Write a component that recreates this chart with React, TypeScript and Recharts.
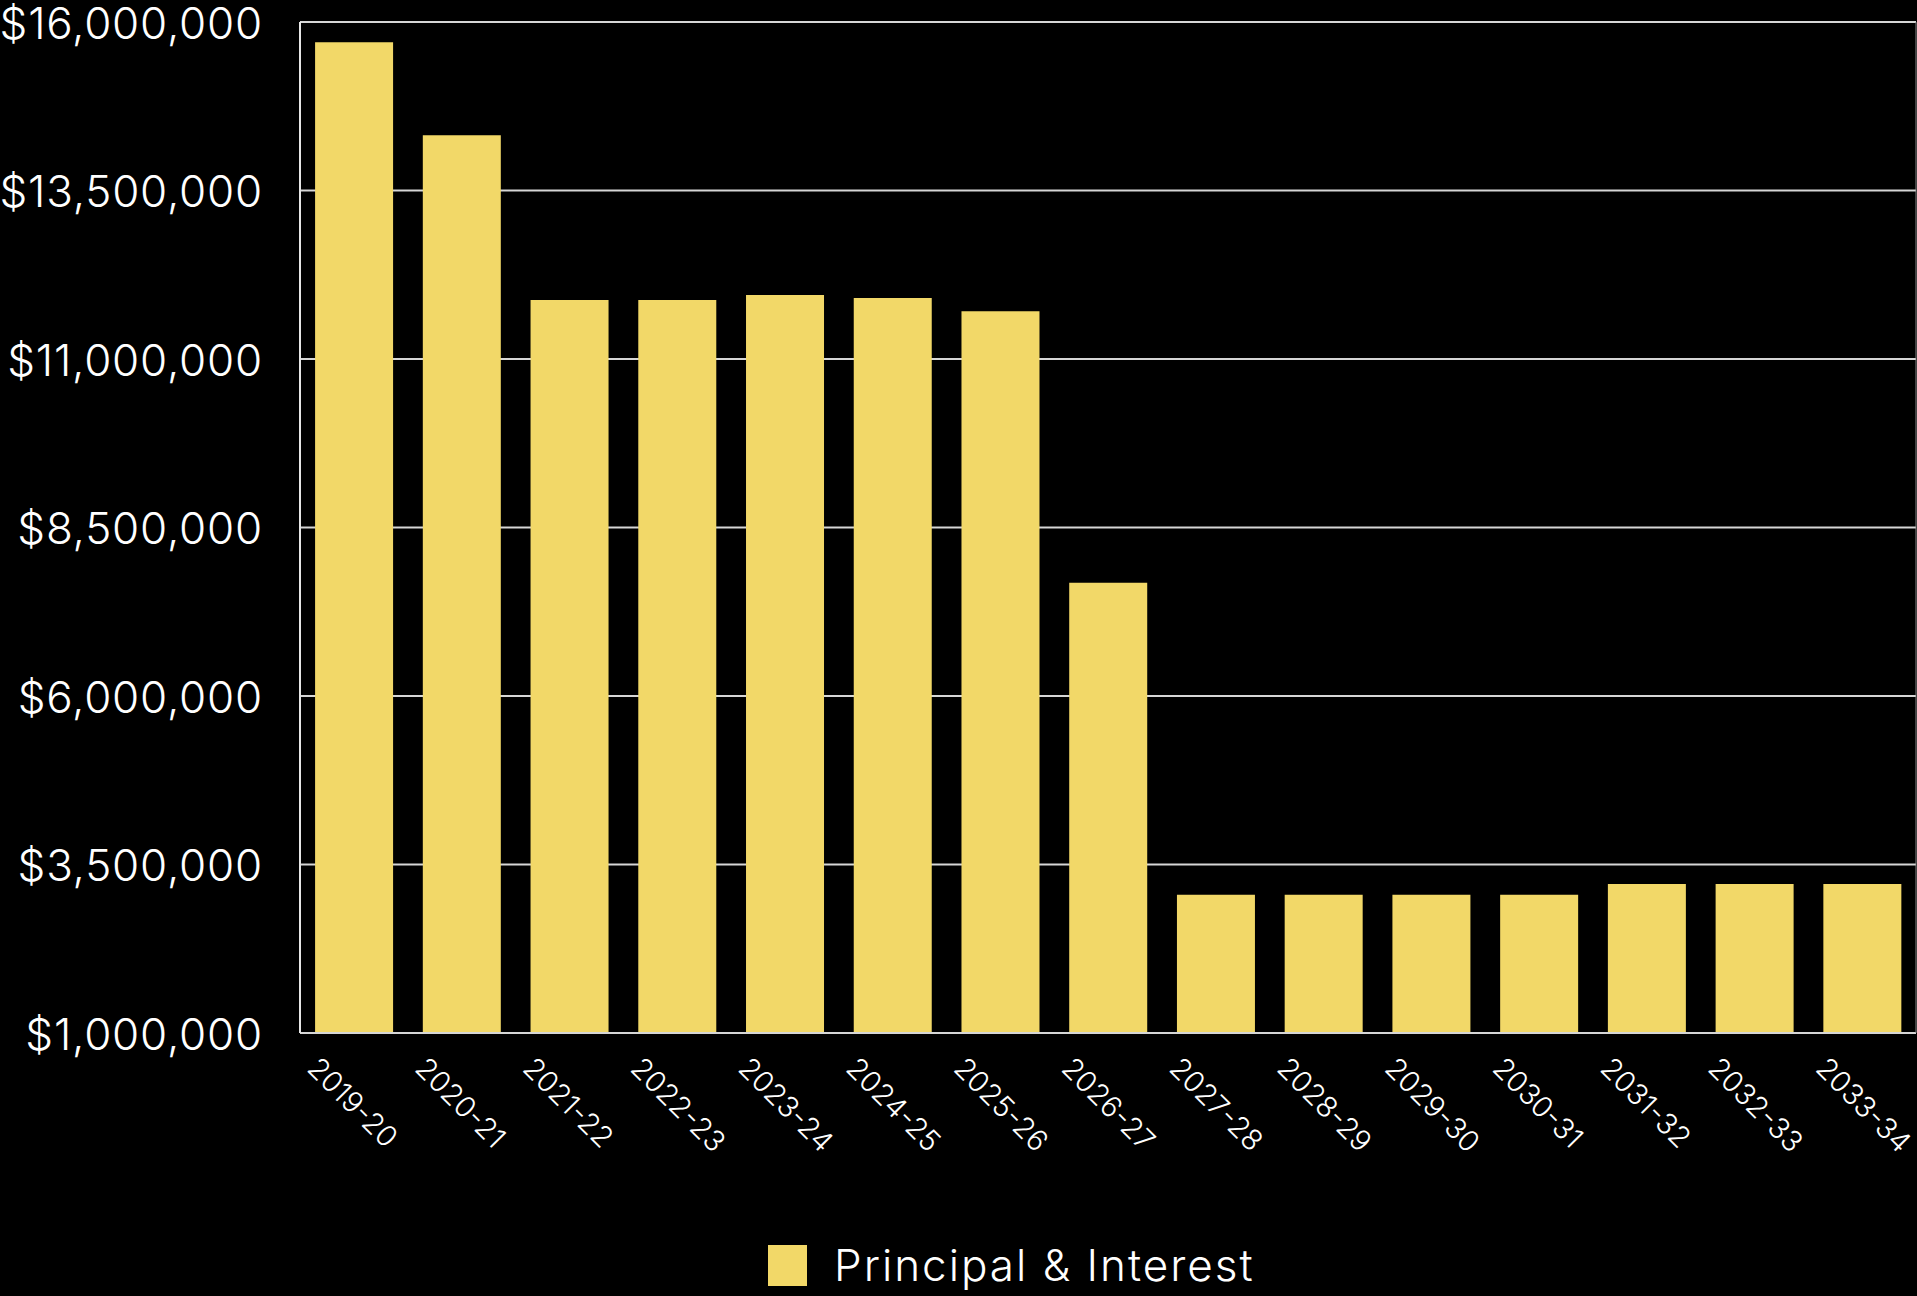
import React from 'react';
import { BarChart, Bar, XAxis, YAxis, CartesianGrid, Legend } from 'recharts';

// fiscal years along the x axis
const years = [
    '2019-20', '2020-21', '2021-22', '2022-23', '2023-24', '2024-25', '2025-26', '2026-27',
    '2027-28', '2028-29', '2029-30', '2030-31', '2031-32', '2032-33', '2033-34',
];

// principal & interest payment per year
const payments = [
    15700000, 14320000, 11875000, 11875000, 11950000, 11905000, 11710000, 7680000,
    3050000, 3050000, 3050000, 3050000, 3210000, 3210000, 3210000,
];

const yTicks = [1000000, 3500000, 6000000, 8500000, 11000000, 13500000, 16000000];

const SERIES_NAME = 'Principal & Interest';
const BAR_COLOR = '#F2D868';
const FONT = 'Inter, "Helvetica Neue", Roboto, sans-serif';

const data = years.map((year, i) => ({ year, value: payments[i] }));

function formatMoney(v: number): string {
    return '$' + v.toLocaleString('en-US');
}

function AngledTick({ x, y, payload }: { x?: number; y?: number; payload?: { value: string } }) {
    return (
        <g transform={`translate(${(x ?? 0) - 48},${(y ?? 0) + 37}) rotate(45)`}>
            <text x={0} y={0} fill="#ffffff" fontSize={29} fontFamily={FONT} fontWeight={300}>
                {payload?.value}
            </text>
        </g>
    );
}

function LegendContent({ payload }: { payload?: Array<{ value: string; color?: string }> }) {
    const items = payload ?? [];
    return (
        <div style={{ display: 'flex', alignItems: 'center', height: 41 }}>
            {items.map((item) => (
                <div key={item.value} style={{ display: 'flex', alignItems: 'center' }}>
                    <div style={{ width: 39, height: 41, background: BAR_COLOR, marginRight: 27 }} />
                    <span
                        style={{
                            color: '#ffffff',
                            fontSize: 44,
                            fontFamily: FONT,
                            fontWeight: 300,
                            letterSpacing: 2,
                            lineHeight: '41px',
                            whiteSpace: 'nowrap',
                        }}
                    >
                        {item.value}
                    </span>
                </div>
            ))}
        </div>
    );
}

export default function App() {
    return (
        <div style={{ position: 'absolute', left: 0, top: 0, width: 1917, height: 1296, background: '#000' }}>
            <BarChart
                width={1917}
                height={1296}
                data={data}
                margin={{ top: 22, right: 0, left: 0, bottom: 0 }}
                barCategoryGap="14%"
            >
                <CartesianGrid vertical={false} stroke="#d6d6d6" strokeWidth={2} />
                <XAxis
                    dataKey="year"
                    height={263}
                    interval={0}
                    tickLine={false}
                    tickSize={0}
                    tickMargin={0}
                    axisLine={{ stroke: '#d6d6d6', strokeWidth: 2 }}
                    tick={<AngledTick />}
                />
                <YAxis
                    width={300}
                    domain={[1000000, 16000000]}
                    ticks={yTicks}
                    interval={0}
                    tickLine={false}
                    tickSize={0}
                    tickMargin={37}
                    axisLine={{ stroke: '#e6e6e6', strokeWidth: 2 }}
                    tickFormatter={formatMoney}
                    tick={{ fill: '#ffffff', fontSize: 44, fontFamily: FONT, fontWeight: 300, letterSpacing: 0.8, dy: 1 }}
                />
                <YAxis
                    yAxisId="frame"
                    orientation="right"
                    width={1}
                    tick={false}
                    tickLine={false}
                    axisLine={{ stroke: '#8a8a8a', strokeWidth: 1 }}
                />
                <Legend
                    layout="horizontal"
                    verticalAlign="middle"
                    align="center"
                    wrapperStyle={{ top: 1245, left: 768, width: 'auto' }}
                    content={<LegendContent />}
                />
                <Bar dataKey="value" name={SERIES_NAME} fill={BAR_COLOR} isAnimationActive={false} />
            </BarChart>
        </div>
    );
}
